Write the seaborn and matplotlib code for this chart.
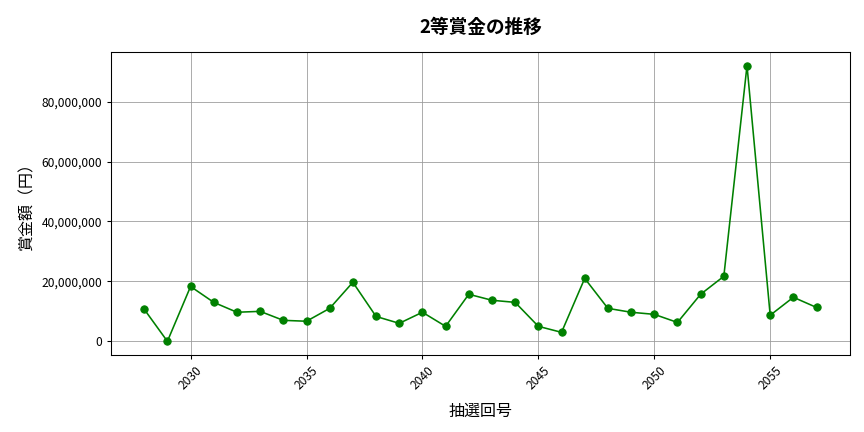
import matplotlib
matplotlib.use("Agg")
import matplotlib.pyplot as plt
import seaborn as sns
import pandas as pd
from matplotlib.ticker import FuncFormatter

draws = list(range(2028, 2058))
prizes = [10.7, 0, 18.3, 13, 9.7, 10, 7, 6.7, 11, 19.7, 8.3, 6, 9.7, 5, 15.7, 13.7, 13, 5, 3, 21,
          11, 9.7, 9, 6.3, 15.7, 21.7, 92, 8.7, 14.7, 11.3]
prizes = [p * 1e6 for p in prizes]
df = pd.DataFrame({"draw": draws, "prize": prizes})

sns.set_style("white")
plt.rcParams['font.family'] = ['Noto Sans CJK JP', 'DejaVu Sans']
for k in ["text.color", "axes.labelcolor", "xtick.color", "ytick.color"]:
    plt.rcParams[k] = "black"
fig, ax = plt.subplots(figsize=(9, 4.5), dpi=96)
sns.lineplot(data=df, x="draw", y="prize", color="green", marker="o", markersize=5.5,
             markeredgecolor="green", linewidth=1.2, ax=ax)
ax.grid(True, color="#999999", linewidth=0.6)
for s in ax.spines.values():
    s.set_color("black"); s.set_linewidth(0.8)
ax.yaxis.set_major_formatter(FuncFormatter(lambda v, p: f"{int(v):,}"))
ax.tick_params(axis="x", rotation=45, labelsize=9)
ax.tick_params(axis="y", labelsize=9)
ax.tick_params(length=3, direction="out", bottom=True, left=True, colors="black")
ax.set_xlabel("抽選回号", fontsize=12, labelpad=8)
ax.set_ylabel("賞金額（円）", fontsize=12)
ax.set_title("2等賞金の推移", fontsize=14, fontweight="bold", pad=14)
fig.subplots_adjust(left=0.128, right=0.984, top=0.88, bottom=0.178)
fig.savefig("out.png", dpi=96)
